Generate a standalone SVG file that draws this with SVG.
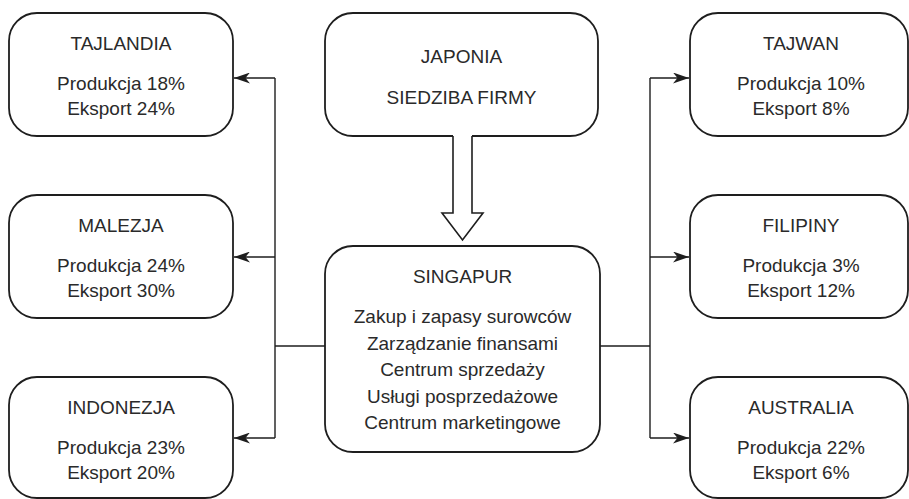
<svg xmlns="http://www.w3.org/2000/svg" width="909" height="499" viewBox="0 0 909 499">
<style>
.box{fill:#fff;stroke:#1e1e1e;stroke-width:1.8}
.t{font-family:"Liberation Sans",Arial,sans-serif;font-size:19px;fill:#2a2a2a;text-anchor:middle}
.c{fill:none;stroke:#1e1e1e;stroke-width:1.4}
</style>
<defs>
<marker id="ah" viewBox="0 0 16 11" refX="16" refY="5.5" markerWidth="16" markerHeight="11" markerUnits="userSpaceOnUse" orient="auto">
<path d="M0,0 L16,5.5 L0,11 L4.5,5.5 Z" fill="#1e1e1e"/>
</marker>
</defs>
<g id="connectors">
<path class="c" d="M325,346 H275"/>
<path class="c" d="M275,78 V438"/>
<path class="c" d="M275,78 H234" marker-end="url(#ah)"/>
<path class="c" d="M275,257 H234" marker-end="url(#ah)"/>
<path class="c" d="M275,438 H234" marker-end="url(#ah)"/>
<path class="c" d="M600,346 H650"/>
<path class="c" d="M650,78 V438"/>
<path class="c" d="M650,78 H689" marker-end="url(#ah)"/>
<path class="c" d="M650,257 H689" marker-end="url(#ah)"/>
<path class="c" d="M650,438 H689" marker-end="url(#ah)"/>
</g>
<g id="tajlandia">
<rect class="box" x="9" y="13" width="224" height="123" rx="28"/>
<text class="t" x="121" y="50">TAJLANDIA</text>
<text class="t" x="121" y="90">Produkcja 18%</text>
<text class="t" x="121" y="115">Eksport 24%</text>
</g>
<g id="malezja">
<rect class="box" x="9" y="195" width="224" height="123" rx="28"/>
<text class="t" x="121" y="232">MALEZJA</text>
<text class="t" x="121" y="272">Produkcja 24%</text>
<text class="t" x="121" y="297">Eksport 30%</text>
</g>
<g id="indonezja">
<rect class="box" x="9" y="377" width="224" height="121" rx="28"/>
<text class="t" x="121" y="414">INDONEZJA</text>
<text class="t" x="121" y="454">Produkcja 23%</text>
<text class="t" x="121" y="479">Eksport 20%</text>
</g>
<g id="japonia">
<rect class="box" x="325" y="13" width="273" height="123" rx="28"/>
<text class="t" x="461.5" y="63">JAPONIA</text>
<text class="t" x="461.5" y="104">SIEDZIBA FIRMY</text>
</g>
<g id="arrow-japonia-singapur">
<polygon points="453,135 453,213 442,213 462.5,240 483,213 472,213 472,135" fill="#fff" stroke="none"/>
<path d="M453,136 V213 H442 L462.5,240 L483,213 H472 V136" fill="none" stroke="#1e1e1e" stroke-width="1.6" stroke-linejoin="miter"/>
</g>
<g id="singapur">
<rect class="box" x="325" y="246" width="275" height="206" rx="28"/>
<text class="t" x="462.5" y="283">SINGAPUR</text>
<text class="t" x="462.5" y="323">Zakup i zapasy surowców</text>
<text class="t" x="462.5" y="350">Zarządzanie finansami</text>
<text class="t" x="462.5" y="376">Centrum sprzedaży</text>
<text class="t" x="462.5" y="403">Usługi posprzedażowe</text>
<text class="t" x="462.5" y="429">Centrum marketingowe</text>
</g>
<g id="tajwan">
<rect class="box" x="690" y="13" width="218" height="123" rx="28"/>
<text class="t" x="801" y="50">TAJWAN</text>
<text class="t" x="801" y="90">Produkcja 10%</text>
<text class="t" x="801" y="115">Eksport 8%</text>
</g>
<g id="filipiny">
<rect class="box" x="690" y="195" width="218" height="123" rx="28"/>
<text class="t" x="801" y="232">FILIPINY</text>
<text class="t" x="801" y="272">Produkcja 3%</text>
<text class="t" x="801" y="297">Eksport 12%</text>
</g>
<g id="australia">
<rect class="box" x="690" y="377" width="218" height="121" rx="28"/>
<text class="t" x="801" y="414">AUSTRALIA</text>
<text class="t" x="801" y="454">Produkcja 22%</text>
<text class="t" x="801" y="479">Eksport 6%</text>
</g>
</svg>
